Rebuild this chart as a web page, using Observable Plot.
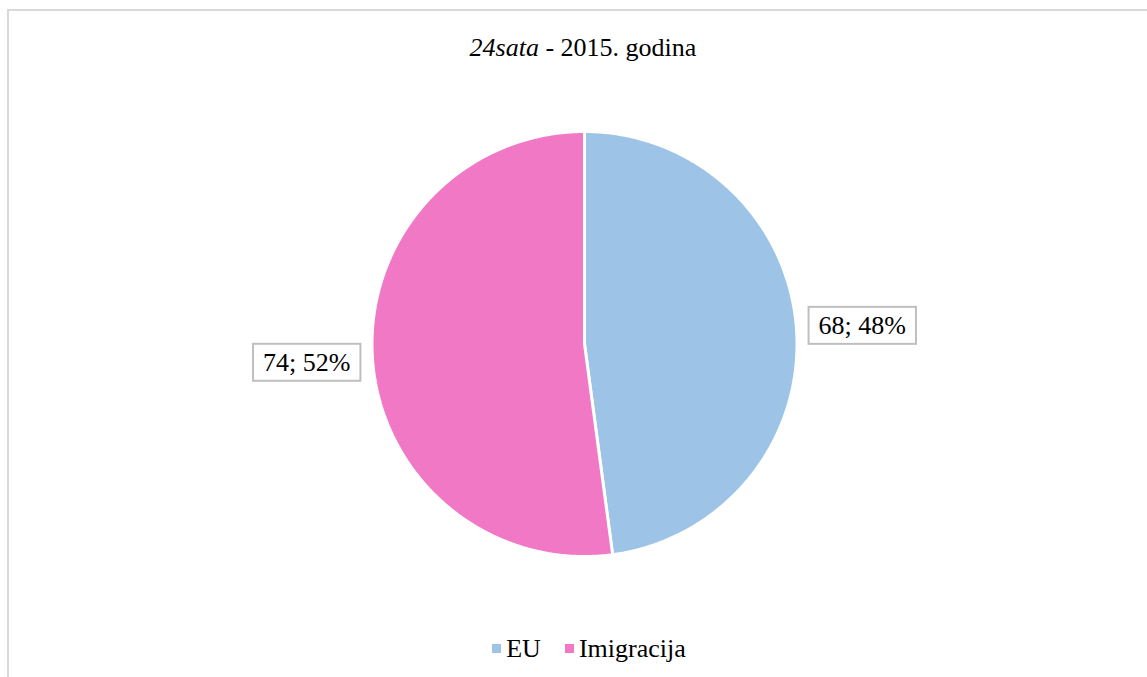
<!DOCTYPE html>
<html>
<head>
<meta charset="utf-8">
<script src="https://cdn.jsdelivr.net/npm/d3@7"></script>
<script src="https://cdn.jsdelivr.net/npm/@observablehq/plot@0.6"></script>
<style>
  html, body { margin: 0; padding: 0; background: #fff; overflow: hidden; width: 1147px; height: 677px; }
  body { position: relative; font-family: "Liberation Serif", "Times New Roman", serif; }
  #frame { position: absolute; left: 7px; top: 9px; width: 1200px; height: 720px; border: 2px solid #d9d9d9; box-sizing: border-box; }
  #chart { position: absolute; left: 0; top: 0; }
  #title { position: absolute; left: 0; top: 33px; width: 1166px; text-align: center; font-size: 26px; line-height: 30px; color: #000; }
  #legend { position: absolute; left: 0; top: 630px; width: 1178px; text-align: center; font-size: 26px; line-height: 30px; color: #000; }
  .item { display: inline-flex; align-items: center; }
  .sw { width: 9px; height: 9px; display: inline-block; margin-right: 5px; }
</style>
</head>
<body>
<div id="frame"></div>
<div id="chart"></div>
<div id="title"><i>24sata</i> - 2015. godina</div>
<div id="legend"></div>
<script>
// ---- data ----
const categories = ["EU", "Imigracija"];
const values = [68, 74];
const percentLabels = ["48%", "52%"];
const colors = ["#9DC3E6", "#F078C5"];

// ---- layout ----
const W = 1147, H = 677;
const cx = 584, cy = 343.5, r = 212.5;

const pie = d3.pie().sort(null).value(d => d.value);
const arcs = pie(categories.map((name, i) => ({name, value: values[i], pct: percentLabels[i]})));

// polygon outline for each slice (angles clockwise from 12 o'clock)
const pts = [];
for (const a of arcs) {
  const n = Math.max(2, Math.ceil((a.endAngle - a.startAngle) / (Math.PI / 360)));
  pts.push({name: a.data.name, x: 0, y: 0});
  for (let k = 0; k <= n; k++) {
    const t = a.startAngle + (a.endAngle - a.startAngle) * k / n;
    pts.push({name: a.data.name, x: Math.sin(t), y: Math.cos(t)});
  }
  pts.push({name: a.data.name, x: 0, y: 0});
}

const labelR = 1.31;
const labels = arcs.map(a => {
  const m = (a.startAngle + a.endAngle) / 2;
  return {name: a.data.name, x: labelR * Math.sin(m), y: labelR * Math.cos(m), text: `${a.data.value}; ${a.data.pct}`};
});

const plot = Plot.plot({
  width: W, height: H,
  margin: 0,
  x: {domain: [-1, 1], range: [cx - r, cx + r], axis: null},
  y: {domain: [-1, 1], range: [cy + r, cy - r], axis: null},
  color: {domain: categories, range: colors},
  style: {fontFamily: "'Liberation Serif', 'Times New Roman', serif", background: "transparent", overflow: "visible"},
  marks: [
    Plot.line(pts, {x: "x", y: "y", z: "name", fill: "name", stroke: "#fff", strokeWidth: 3, strokeLinejoin: "miter", curve: "linear"}),
    Plot.text(labels, {x: "x", y: "y", text: "text", fontSize: 26, fill: "#000", className: "pie-label"})
  ]
});
document.getElementById("chart").appendChild(plot);

// boxes around data labels
d3.select(plot).selectAll(".pie-label text").each(function() {
  const bb = this.getBBox();
  const padX = 10, padY = 5;
  const rect = document.createElementNS("http://www.w3.org/2000/svg", "rect");
  const tr = this.getAttribute("transform");
  if (tr) rect.setAttribute("transform", tr);
  rect.setAttribute("x", bb.x - padX);
  rect.setAttribute("y", bb.y - padY + 1);
  rect.setAttribute("width", bb.width + 2 * padX);
  rect.setAttribute("height", bb.height + 2 * padY - 2);
  rect.setAttribute("fill", "#fff");
  rect.setAttribute("stroke", "#bfbfbf");
  rect.setAttribute("stroke-width", 2);
  this.parentNode.insertBefore(rect, this);
});

// legend
const leg = d3.select("#legend");
categories.forEach((c, i) => {
  const it = leg.append("span").attr("class", "item").style("margin-right", i < categories.length - 1 ? "24px" : "0");
  it.append("span").attr("class", "sw").style("background", colors[i]);
  it.append("span").text(c);
});
</script>
</body>
</html>
